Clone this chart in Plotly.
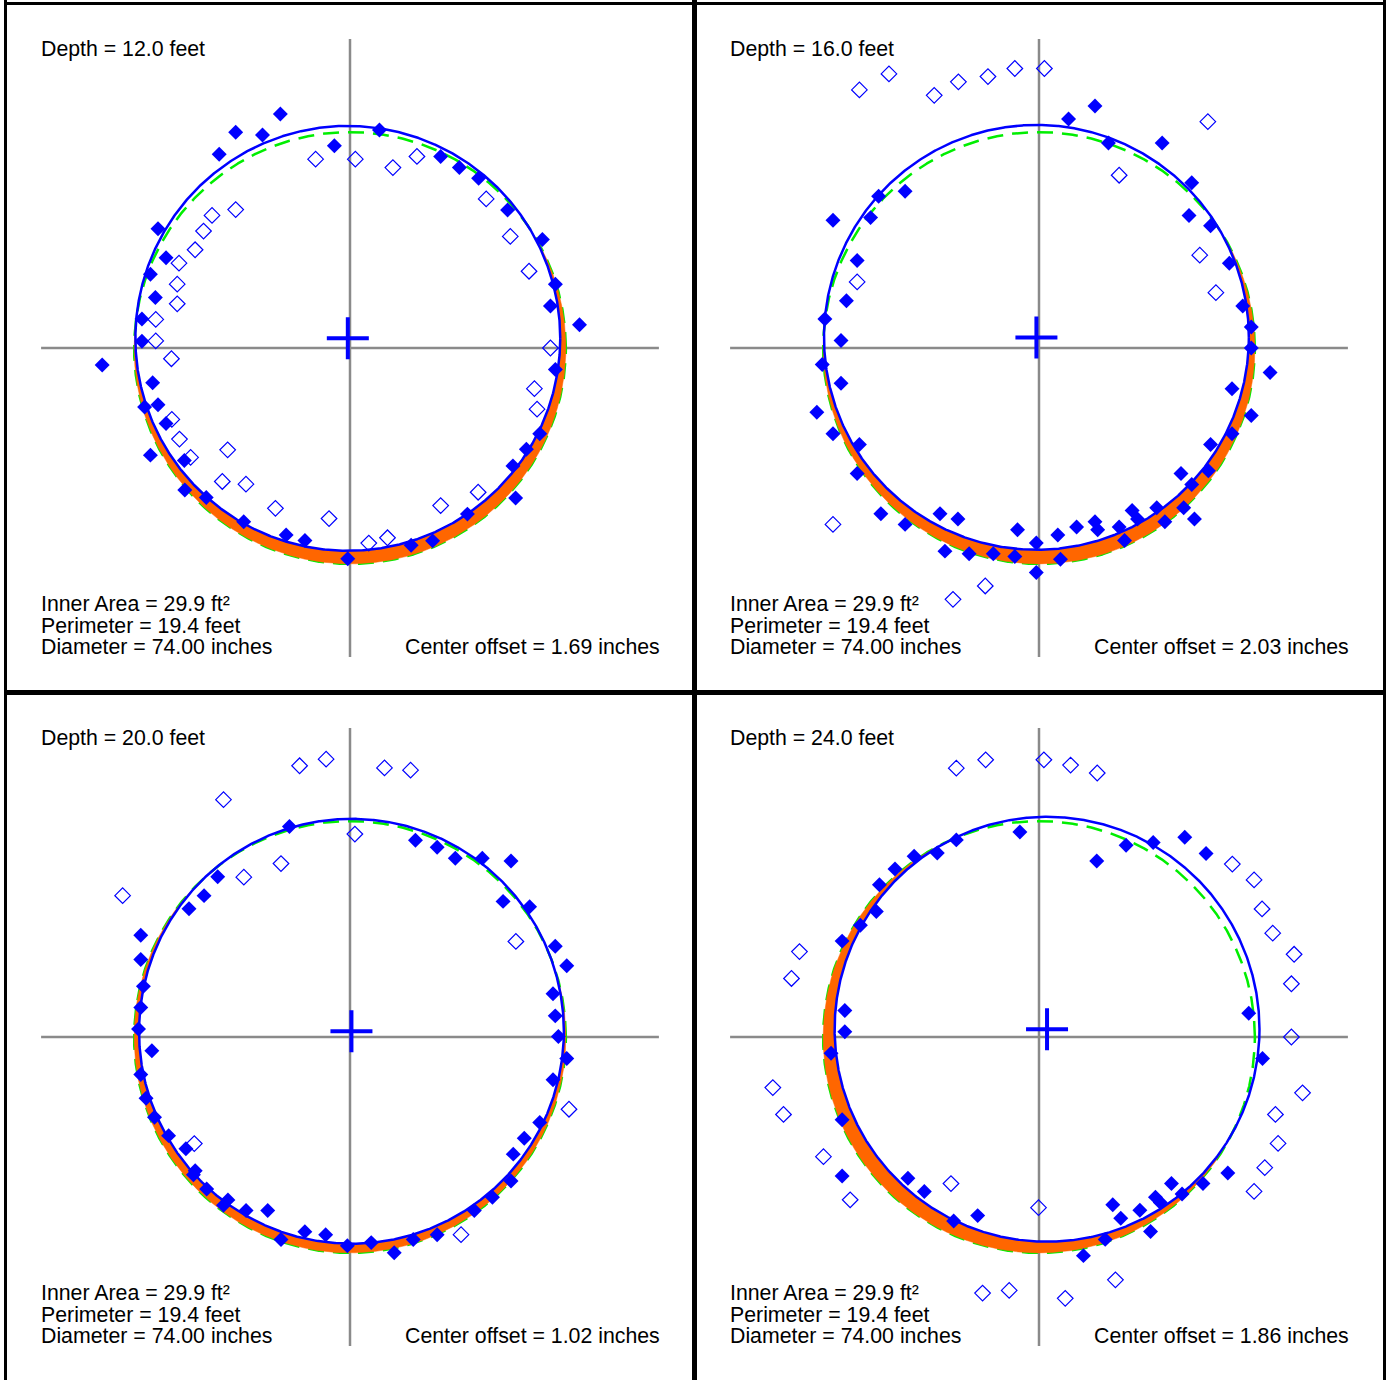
import numpy as np
import plotly.graph_objects as go

# ---------------- data (inches, relative to nominal centre) ----------------
depth_ft = [12.0, 16.0, 20.0, 24.0]
inner_area_ft2 = [29.9, 29.9, 29.9, 29.9]
perimeter_ft = [19.4, 19.4, 19.4, 19.4]
diameter_in = [74.00, 74.00, 74.00, 74.00]
center_offset_in = [1.69, 2.03, 1.02, 1.86]
fit_center_x = [-0.38, -0.45, 0.25, 1.40]
fit_center_y = [1.68, 1.85, 1.00, 1.35]
nominal_radius_in = 37.6
axis_half_len_in = 53.8
view_half_in = 60.0

# panel 1 (12 ft)
p1_fill_x = [-12.13, -19.91, -15.24, -22.78, -2.72, 5.13, 15.79, 19.05, 22.40, 27.45, 33.51, 35.77, 34.91, 39.97,
             35.77, 33.05, 30.72, 28.38, 28.85, 20.45, 14.39, 10.65, -0.39, -7.85, -11.12, -18.51, -25.04, -28.77,
             -28.85, -34.76, -32.04, -33.44, -35.77, -34.37, -43.16, -36.24, -36.24, -33.90, -34.76, -32.04, -33.44]
p1_fill_y = [40.75, 37.56, 37.09, 33.75, 35.23, 37.95, 33.36, 31.42, 29.55, 24.03, 18.90, 11.12, 7.31, 4.04,
             -3.73, -14.93, -17.65, -20.53, -26.13, -28.93, -33.59, -34.37, -36.70, -33.51, -32.58, -30.25, -26.05, -24.73,
             -19.60, -18.66, -13.14, -9.88, -10.26, -6.07, -2.95, 1.17, 5.05, 8.79, 12.83, 15.71, 20.76]
p1_open_x = [-5.99, 0.93, 7.47, 11.66, 23.72, 27.92, 31.18, 34.91, 32.12, 32.58, 22.32, 15.79, 6.53, 3.27, -3.65,
             -12.99, -18.12, -22.24, -21.31, -27.76, -29.70, -31.03, -31.10, -33.83, -33.83, -30.09, -30.09, -29.78,
             -26.98, -25.51, -24.03, -19.91]
p1_open_y = [32.89, 32.89, 31.42, 33.36, 25.97, 19.44, 13.37, 0.00, -7.08, -10.65, -25.12, -27.45, -33.05, -33.98, -29.70,
             -27.92, -23.72, -23.25, -17.73, -19.05, -15.86, -12.44, -1.87, 1.24, 4.98, 7.70, 11.12, 14.77,
             17.11, 20.37, 23.09, 24.11]

# panel 2 (16 ft)
p2_fill_x = [5.15, 9.75, 12.09, 21.45, 26.60, 26.13, 29.88, 33.15, 35.49, 36.97, 36.97, 40.25, 33.62, 36.97, 33.62,
             29.88, 29.49, 24.73, 26.60, 25.20, 27.07, 21.92, 20.51, 16.22, 17.16, 14.90, 13.96, 9.75, 10.22, 6.55,
             3.28, 3.74, -0.47, -0.47, -3.74, -4.21, -7.96, -12.17, -16.38, -14.12, -17.24, -23.32, -27.54, -31.67,
             -31.28, -35.88, -38.69, -37.75, -34.48, -34.48, -37.29, -33.54, -31.67, -29.33, -27.93, -35.88, -23.32]
p2_fill_y = [39.89, 42.15, 35.69, 35.69, 28.77, 23.09, 21.31, 14.77, 7.31, 3.65, 0.00, -4.28, -7.08, -11.74, -14.93,
             -16.80, -21.38, -21.85, -23.79, -27.84, -29.78, -30.25, -27.84, -28.30, -29.78, -33.51, -31.18, -30.25, -31.65, -31.18,
             -32.58, -36.78, -33.98, -39.11, -31.65, -36.31, -35.85, -35.85, -35.38, -29.78, -28.85, -30.72, -28.85, -21.85,
             -16.80, -14.93, -11.20, -2.88, -6.14, 1.32, 5.05, 8.24, 15.24, 22.71, 26.44, 22.24, 27.29]
p2_open_x = [-31.28, -26.13, -18.25, -14.04, -8.89, -4.21, 0.94, 29.41, 13.96, 28.00, 30.81, -31.67, -35.88, -14.98, -9.36]
p2_open_y = [44.95, 47.74, 44.01, 46.35, 47.28, 48.68, 48.68, 39.42, 30.09, 16.17, 9.64, 11.51, -30.72, -43.78, -41.45]

# panel 3 (20 ft)
p3_fill_x = [-10.55, 11.40, 15.18, 18.34, 23.04, 28.04, 26.66, 31.28, 35.75, 37.75, 35.36, 35.75, 36.29, 37.75, 35.36,
             33.05, 30.35, 28.43, 28.04, 24.81, 21.65, 15.18, 11.02, 7.70, 3.70, -0.46, -4.24, -7.86, -12.02, -14.33,
             -18.10, -21.26, -22.03, -24.96, -26.96, -27.27, -28.58, -31.59, -34.05, -35.52, -36.44, -34.51, -36.83,
             -36.44, -35.98, -36.44, -36.44, -28.04, -25.42, -23.04]
p3_fill_y = [36.66, 34.28, 33.05, 31.13, 31.13, 30.67, 23.62, 22.70, 15.80, 12.42, 7.52, 3.68, 0.08, -3.76, -7.44,
             -14.88, -17.64, -20.40, -25.08, -27.91, -30.21, -34.43, -35.28, -37.58, -35.81, -36.35, -34.43, -33.90, -35.28, -30.21,
             -30.21, -28.37, -29.29, -26.46, -23.31, -24.00, -19.48, -17.18, -13.96, -10.66, -6.52, -2.38, 1.38,
             5.14, 8.82, 13.50, 17.71, 22.32, 24.62, 27.91]
p3_open_x = [-8.78, -4.16, 6.01, 10.55, -22.03, -39.60, -18.49, -12.02, 0.85, 28.89, 38.14, 19.34, -27.12]
p3_open_y = [47.24, 48.39, 46.86, 46.47, 41.33, 24.62, 27.84, 30.21, 35.35, 16.64, -12.58, -34.43, -18.56]

# panel 4 (24 ft)
p4_fill_x = [-3.33, -14.40, -17.72, -21.75, -25.08, -27.79, -28.33, -31.11, -34.29, -33.82, -33.82, -36.22, -34.29,
             -34.29, -22.83, -19.97, -14.86, -10.68, 7.74, 11.53, 12.85, 14.24, 17.57, 19.43, 20.28, 21.13, 23.07,
             24.92, 28.56, 32.89, 38.93, 36.53, 10.06, 15.17, 19.89, 25.39, 29.10]
p4_fill_y = [35.71, 34.33, 32.03, 31.49, 29.27, 26.51, 21.84, 19.46, 16.70, 4.60, 0.92, -2.84, -14.41,
             -24.21, -24.60, -26.90, -32.03, -31.11, -38.08, -35.25, -29.20, -31.57, -30.19, -33.87, -27.89, -28.81, -25.52,
             -27.36, -25.52, -23.68, -3.75, 4.14, 30.65, 33.41, 33.87, 34.79, 31.95]
p4_open_x = [-14.40, -9.29, 0.85, 5.50, 10.14, 33.67, 37.46, 38.85, 40.71, 44.43, 43.96, 43.96, 45.90, 41.18, 41.64,
             39.32, 37.46, -41.72, -43.11, -46.36, -44.50, -37.54, -32.89, -15.33, -0.08, 13.31, 4.57, -5.19, -9.83]
p4_open_y = [46.82, 48.28, 48.28, 47.36, 45.98, 30.11, 27.36, 22.30, 18.08, 14.41, 9.27, 0.00, -9.73, -13.49, -18.54,
             -22.76, -26.90, 14.87, 10.19, -8.81, -13.49, -20.84, -28.35, -25.52, -29.73, -42.30, -45.52, -44.14, -44.60]

fill_x = [p1_fill_x, p2_fill_x, p3_fill_x, p4_fill_x]
fill_y = [p1_fill_y, p2_fill_y, p3_fill_y, p4_fill_y]
open_x = [p1_open_x, p2_open_x, p3_open_x, p4_open_x]
open_y = [p1_open_y, p2_open_y, p3_open_y, p4_open_y]

# ---------------- styling / layout constants ----------------
W, H = 1389, 1380
PANEL = 689.0
LEFTS = [5.5, 694.5]
TOPS = [3.5, 692.5]
BLUE = "#0000FF"
GREEN = "#00EE00"
ORANGE = "#FF6600"
GRAY = "#8A8A8A"
FONT = dict(family="Liberation Sans, Arial, Helvetica, sans-serif", size=21.3, color="black")
s = PANEL / (2 * view_half_in)  # px per inch

fig = go.Figure()
annotations = []
shapes = []
tt = np.linspace(0, 2 * np.pi, 1441)


def lune(cx, cy, rb, rg, n=4001):
    phi = np.arctan2(-cy, -cx)
    u = np.linspace(-np.pi, np.pi, n)
    t = phi + u
    gx, gy = rg * np.cos(t), rg * np.sin(t)
    outside = np.hypot(gx - cx, gy - cy) > rb
    bx, by = cx + rb * np.cos(t), cy + rb * np.sin(t)
    inside = np.hypot(bx, by) < rg
    xs = np.concatenate([gx[outside], bx[inside][::-1]])
    ys = np.concatenate([gy[outside], by[inside][::-1]])
    return xs, ys


def px(xp):
    return xp / W


def py(yp):
    return 1 - yp / H


for k in range(4):
    r, c = divmod(k, 2)
    L, T = LEFTS[c], TOPS[r]
    bottom_px = T + PANEL
    y_lo = -view_half_in
    if bottom_px > H:
        y_lo = -view_half_in + (bottom_px - H) / s
        bottom_px = H
    ax = "" if k == 0 else str(k + 1)
    xa, ya = "x" + ax, "y" + ax
    fig.update_layout(**{
        "xaxis" + ax: dict(domain=[L / W, (L + PANEL) / W], range=[-view_half_in, view_half_in],
                           visible=False, fixedrange=True, anchor=ya),
        "yaxis" + ax: dict(domain=[1 - bottom_px / H, 1 - T / H], range=[y_lo, view_half_in],
                           visible=False, fixedrange=True, anchor=xa),
    })

    cx, cy = fit_center_x[k], fit_center_y[k]
    rb = diameter_in[k] / 2.0
    rg = nominal_radius_in

    # crosshair
    fig.add_trace(go.Scatter(x=[-axis_half_len_in, axis_half_len_in, None, 0, 0],
                             y=[0, 0, None, -axis_half_len_in, axis_half_len_in],
                             mode="lines", line=dict(color=GRAY, width=2.5),
                             xaxis=xa, yaxis=ya, hoverinfo="skip", showlegend=False))
    # nominal (green dashed) circle
    fig.add_trace(go.Scatter(x=rg * np.cos(tt), y=rg * np.sin(tt), mode="lines",
                             line=dict(color=GREEN, width=2.5, dash="16px,9px"),
                             xaxis=xa, yaxis=ya, hoverinfo="skip", showlegend=False))
    # orange lune
    lx, ly = lune(cx, cy, rb, rg)
    fig.add_trace(go.Scatter(x=lx, y=ly, mode="lines", fill="toself", fillcolor=ORANGE,
                             line=dict(color=ORANGE, width=0.5),
                             xaxis=xa, yaxis=ya, hoverinfo="skip", showlegend=False))
    # fitted (blue) circle
    fig.add_trace(go.Scatter(x=cx + rb * np.cos(tt), y=cy + rb * np.sin(tt), mode="lines",
                             line=dict(color=BLUE, width=2.5),
                             xaxis=xa, yaxis=ya, hoverinfo="skip", showlegend=False))
    # filled diamonds
    fig.add_trace(go.Scatter(x=fill_x[k], y=fill_y[k], mode="markers",
                             marker=dict(symbol="diamond", size=11.5, color=BLUE, line=dict(width=0)),
                             xaxis=xa, yaxis=ya, showlegend=False))
    # open diamonds
    fig.add_trace(go.Scatter(x=open_x[k], y=open_y[k], mode="markers",
                             marker=dict(symbol="diamond-open", size=12, color=BLUE,
                                         line=dict(width=1.2, color=BLUE)),
                             xaxis=xa, yaxis=ya, showlegend=False))
    # centre plus
    fig.add_trace(go.Scatter(x=[cx], y=[cy], mode="markers",
                             marker=dict(symbol="cross-thin", size=30, color=BLUE,
                                         line=dict(width=4, color=BLUE)),
                             xaxis=xa, yaxis=ya, showlegend=False))

    common = dict(xref="paper", yref="paper", showarrow=False, font=FONT, yanchor="middle", borderpad=0)
    annotations.append(dict(text=f"Depth = {depth_ft[k]:.1f} feet", x=px(L + 34.5), y=py(T + 45.5),
                            xanchor="left", **common))
    annotations.append(dict(text=f"Inner Area = {inner_area_ft2[k]:.1f} ft²", x=px(L + 34.5), y=py(T + 600.5),
                            xanchor="left", **common))
    annotations.append(dict(text=f"Perimeter = {perimeter_ft[k]:.1f} feet", x=px(L + 34.5), y=py(T + 622.3),
                            xanchor="left", **common))
    annotations.append(dict(text=f"Diameter = {diameter_in[k]:.2f} inches", x=px(L + 34.5), y=py(T + 643.5),
                            xanchor="left", **common))
    annotations.append(dict(text=f"Center offset = {center_offset_in[k]:.2f} inches", x=px(L + 655),
                            y=py(T + 643.5), xanchor="right", **common))

# panel borders
for xpx, wdt in [(5.5, 3), (694.5, 5), (1384.5, 3)]:
    shapes.append(dict(type="line", xref="paper", yref="paper", x0=xpx / W, x1=xpx / W, y0=0, y1=1,
                       line=dict(color="black", width=wdt)))
for ypx, wdt in [(3.5, 3), (692.5, 5)]:
    shapes.append(dict(type="line", xref="paper", yref="paper", x0=4.0 / W, x1=1386.0 / W,
                       y0=1 - ypx / H, y1=1 - ypx / H, line=dict(color="black", width=wdt)))

fig.update_layout(width=W, height=H, margin=dict(l=0, r=0, t=0, b=0),
                  paper_bgcolor="white", plot_bgcolor="white",
                  annotations=annotations, shapes=shapes, showlegend=False)

fig.write_html("out.html", config={"displayModeBar": False},
               post_script="document.body.style.margin='0';document.body.style.overflow='hidden';")
